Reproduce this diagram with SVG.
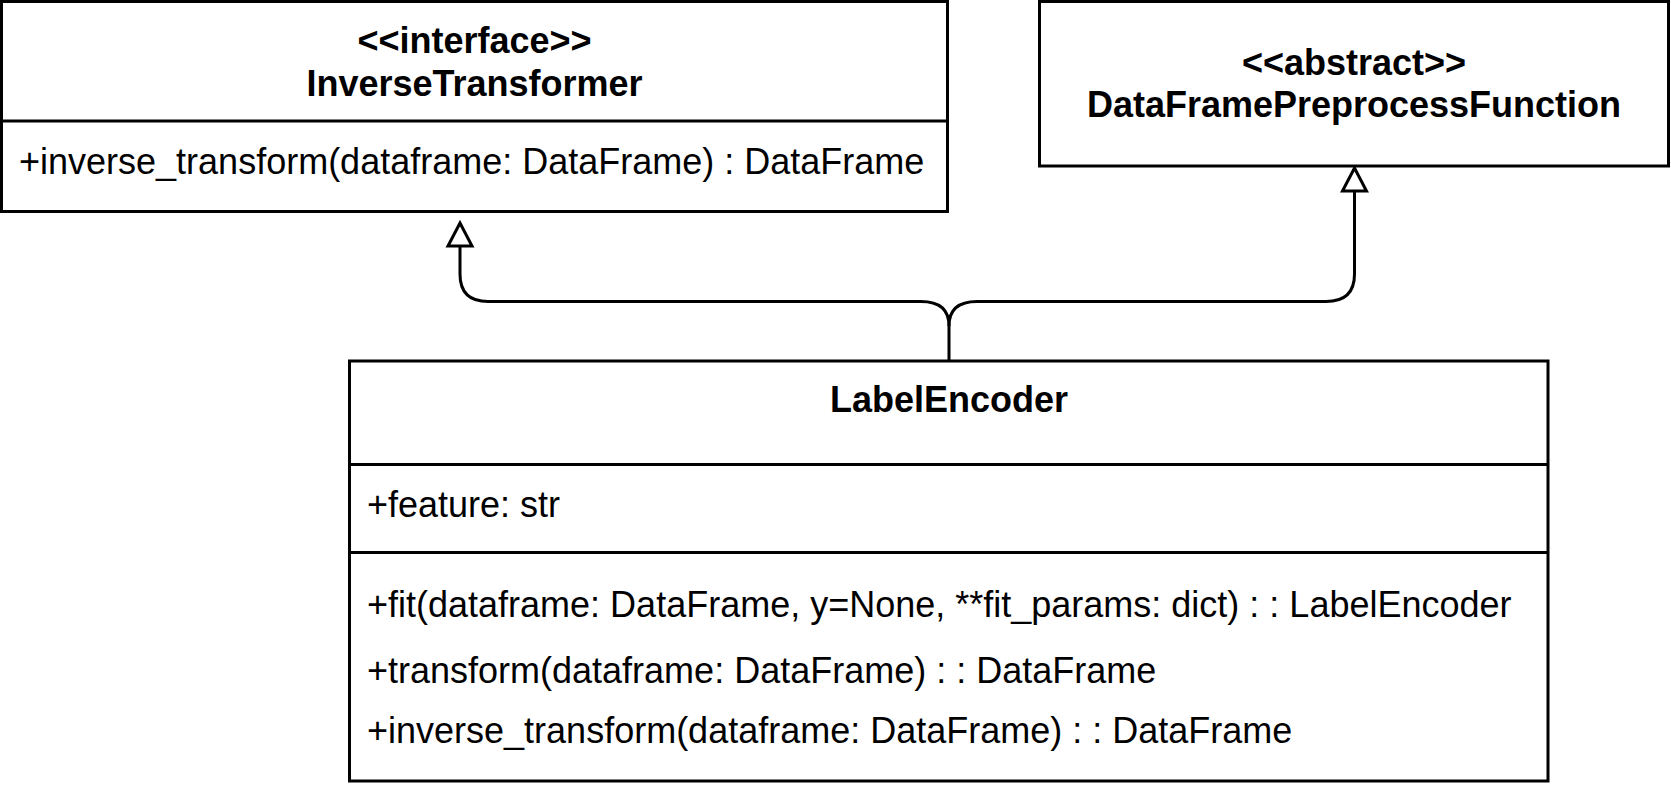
<svg xmlns="http://www.w3.org/2000/svg" width="1671" height="792" viewBox="0 0 1671 792">
<style>
.box{fill:#ffffff;stroke:#000000;stroke-width:3}
.div{stroke:#000000;stroke-width:3;fill:none}
.edge{fill:none;stroke:#000000;stroke-width:3}
.t{font-family:"Liberation Sans",Arial,Helvetica,sans-serif;font-size:36px;fill:#000000}
.b{font-weight:bold;text-anchor:middle}
</style>
<defs>
<marker id="inh" markerUnits="userSpaceOnUse" markerWidth="24" markerHeight="24" viewBox="0 0 24 24" refX="23" refY="12" orient="auto" overflow="visible">
<path d="M0,0 L23,12 L0,24 Z" fill="#ffffff" stroke="#000000" stroke-width="3" stroke-linejoin="miter"/>
</marker>
</defs>
<rect width="1671" height="792" fill="#ffffff"/>
<g id="connectors">
<path class="edge" d="M949,361 L949,326 Q949,301.5 921,301.5 L488,301.5 Q460,301.5 460,274 L460,223" marker-end="url(#inh)"/>
<path class="edge" d="M949,326 Q949,301.5 977,301.5 L1326,301.5 Q1354.5,301.5 1354.5,274 L1354.5,168" marker-end="url(#inh)"/>
</g>
<g id="InverseTransformer">
<rect class="box" x="1.5" y="1.5" width="946" height="210"/>
<line class="div" x1="1.5" y1="121" x2="947.5" y2="121"/>
<text class="t b" x="474.5" y="53">&lt;&lt;interface&gt;&gt;</text>
<text class="t b" x="474.5" y="96">InverseTransformer</text>
<text class="t" x="19" y="174">+inverse_transform(dataframe: DataFrame) : DataFrame</text>
</g>
<g id="DataFramePreprocessFunction">
<rect class="box" x="1039.5" y="1.5" width="629" height="164.5"/>
<text class="t b" x="1354" y="75">&lt;&lt;abstract&gt;&gt;</text>
<text class="t b" x="1354" y="117">DataFramePreprocessFunction</text>
</g>
<g id="LabelEncoder">
<rect class="box" x="349.5" y="361" width="1198.5" height="420"/>
<line class="div" x1="349.5" y1="464.5" x2="1548" y2="464.5"/>
<line class="div" x1="349.5" y1="552.5" x2="1548" y2="552.5"/>
<text class="t b" x="949" y="412">LabelEncoder</text>
<text class="t" x="367" y="517">+feature: str</text>
<text class="t" x="367" y="617">+fit(dataframe: DataFrame, y=None, **fit_params: dict) : : LabelEncoder</text>
<text class="t" x="367" y="683">+transform(dataframe: DataFrame) : : DataFrame</text>
<text class="t" x="367" y="743">+inverse_transform(dataframe: DataFrame) : : DataFrame</text>
</g>
</svg>
